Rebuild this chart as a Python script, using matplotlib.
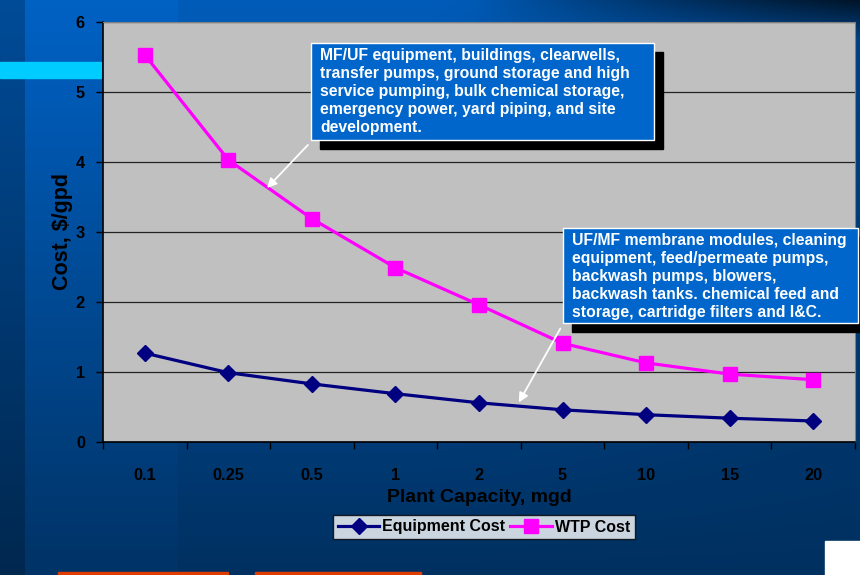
import matplotlib
matplotlib.use("Agg")
import matplotlib.pyplot as plt
import numpy as np
from matplotlib.patches import Rectangle

plt.rcParams['font.family'] = ['Liberation Sans', 'DejaVu Sans']
plt.rcParams['font.weight'] = 'bold'

capacity = ['0.1', '0.25', '0.5', '1', '2', '5', '10', '15', '20']
equipment_cost = [1.27, 0.99, 0.83, 0.69, 0.56, 0.46, 0.39, 0.34, 0.30]
wtp_cost = [5.53, 4.03, 3.19, 2.49, 1.96, 1.41, 1.13, 0.97, 0.89]

note_wtp = ("MF/UF equipment, buildings, clearwells,\n"
            "transfer pumps, ground storage and high\n"
            "service pumping, bulk chemical storage,\n"
            "emergency power, yard piping, and site\n"
            "development.")
note_equip = ("UF/MF membrane modules, cleaning\n"
              "equipment, feed/permeate pumps,\n"
              "backwash pumps, blowers,\n"
              "backwash tanks. chemical feed and\n"
              "storage, cartridge filters and I&C.")

W, H = 860, 575
fig = plt.figure(figsize=(W / 100, H / 100), dpi=100)

# slide background gradient
yy, xx = np.mgrid[0:H, 0:W]
ty = yy / H
tx = xx / W
top = np.stack([np.zeros_like(tx), 92 - 25 * np.clip((tx - 0.5) / 0.5, 0, 1),
                185 - 50 * np.clip((tx - 0.5) / 0.5, 0, 1)], -1)
bot = np.stack([np.zeros_like(tx), 48 + 0 * tx, 96 + 0 * tx], -1)
img = top * (1 - ty[..., None]) + bot * ty[..., None]
# dark title strip at top right
dark = np.clip((tx - 0.55) / 0.45, 0, 1) * np.clip((40 - yy) / 40, 0, 1)
img = img * (1 - 0.7 * dark[..., None])
img[:, 25:178] *= 1.06
img[:, :25] *= 0.82
img = np.clip(img, 0, 255) / 255
bg = fig.add_axes([0, 0, 1, 1], zorder=-10)
bg.imshow(img, aspect='auto', extent=[0, W, H, 0])
bg.set_xlim(0, W)
bg.set_ylim(H, 0)
bg.axis('off')
bg.add_patch(Rectangle((0, 62), 101, 16, color='#00CCFF'))
bg.add_patch(Rectangle((58, 572), 170, 4, color='#E03C00'))
bg.add_patch(Rectangle((255, 572), 166, 4, color='#E03C00'))
bg.add_patch(Rectangle((825, 541), 40, 40, color='white'))

ax = fig.add_axes([103 / W, (H - 442) / H, 752 / W, 420 / H])
ax.set_facecolor('#C0C0C0')
x = np.arange(len(capacity))
ax.plot(x, equipment_cost, color='#000080', lw=2.3, marker='D', ms=8.5,
        label='Equipment Cost', zorder=3)
ax.plot(x, wtp_cost, color='#FF00FF', lw=2.3, marker='s', ms=9.5,
        label='WTP Cost', zorder=3)

ax.set_xlim(-0.5, len(capacity) - 0.5)
ax.set_ylim(0, 6)
ax.set_yticks(range(7))
ax.yaxis.grid(True, color='#222222', lw=0.9)
ax.set_axisbelow(True)
ax.set_xticks(x)
ax.set_xticklabels(capacity)
ax.set_xticks(np.arange(-0.5, len(capacity)), minor=True)
ax.tick_params(axis='x', which='major', length=0, pad=19, labelsize=11.8)
ax.tick_params(axis='x', which='minor', length=5, width=1, color='black')
ax.tick_params(axis='y', length=5, width=1, labelsize=11.8, pad=8)
for s in ['top', 'right']:
    ax.spines[s].set_color('#808080')
ax.spines['left'].set_linewidth(1.2)
ax.spines['bottom'].set_linewidth(1.2)
ax.set_xlabel('Plant Capacity, mgd', fontsize=14, fontweight='bold', labelpad=4)
ax.set_ylabel('Cost, $/gpd', fontsize=15.5, fontweight='bold', labelpad=2)

# annotation boxes with shadow
def note(x0, y0, x1, y1, text):
    dx, dy = 9 / 752, 9 / 420
    ax.add_patch(Rectangle((x0 + dx, y0 - dy), x1 - x0, y1 - y0, transform=ax.transAxes,
                           color='black', clip_on=False, zorder=5))
    ax.add_patch(Rectangle((x0, y0), x1 - x0, y1 - y0, transform=ax.transAxes,
                           facecolor='#0066CC', edgecolor='white', lw=1,
                           clip_on=False, zorder=6))
    ax.text(x0 + 9 / 752, y1 - 5 / 420, text, transform=ax.transAxes, color='white',
            fontsize=11.3, fontweight='bold', va='top', ha='left', linespacing=1.25,
            zorder=7)

note(0.277, 0.719, 0.733, 0.95, note_wtp)
note(0.612, 0.283, 1.004, 0.51, note_equip)

ax.annotate('', xy=(1.44, 3.6), xytext=(0.275, 0.712), textcoords='axes fraction',
            arrowprops=dict(arrowstyle='-|>', color='white', lw=1.3, mutation_scale=14),
            zorder=8)
ax.annotate('', xy=(4.46, 0.53), xytext=(0.61, 0.276), textcoords='axes fraction',
            arrowprops=dict(arrowstyle='-|>', color='white', lw=1.3, mutation_scale=14),
            zorder=8)

leg = fig.legend(loc='center', bbox_to_anchor=(484 / W, 1 - 527 / H), ncol=2,
                 frameon=True, fancybox=False, edgecolor='black', fontsize=11.5,
                 handlelength=2.6, handletextpad=0.2, columnspacing=0.3,
                 borderpad=0.3, borderaxespad=0)
leg.get_frame().set_linewidth(1)
for t in leg.get_texts():
    t.set_fontweight('bold')

fig.savefig('out.png', dpi=100)
